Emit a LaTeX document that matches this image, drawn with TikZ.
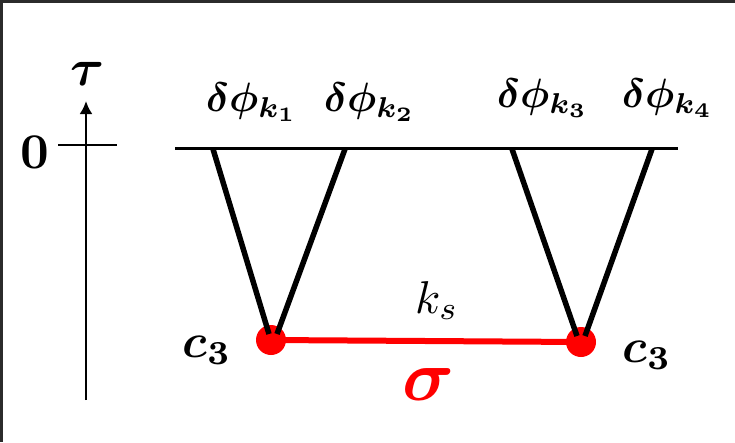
\documentclass[tikz,border=0pt]{standalone}
\usepackage{graphicx}
\usepackage{amsmath}
\usepackage{bm}
\usetikzlibrary{arrows.meta,calc}
\definecolor{frame}{HTML}{2B2B2B}
\definecolor{dotred}{HTML}{FF0000}
\newcommand{\bigtxt}[2]{\scalebox{#1}{#2}}
\begin{document}
\begin{tikzpicture}[x=1pt,y=-1pt,
  leg/.style={line width=5.5pt},
  lab/.style={inner sep=0pt,anchor=base},
  dotnode/.style={circle,fill=dotred,minimum size=30pt,inner sep=0pt}]
\useasboundingbox (0,0) rectangle (735,442);
\fill[white] (0,0) rectangle (735,442);
\fill[frame] (0,0) rectangle (735,3);
\fill[frame] (0,0) rectangle (3,442);
% time axis
\coordinate (ax0) at (86,400);
\coordinate (ax1) at (86,101);
\draw[line width=2.5pt,-{Latex[length=13pt,width=13pt]}] (ax0) -- (ax1);
\coordinate (t0) at (58,145);
\coordinate (t1) at (117,145);
\draw[line width=2.5pt] (t0) -- (t1);
\node[lab] (tau) at (88,85) {\bigtxt{5.2}{$\bm{\tau}$}};
\node[lab] (zero) at (35,168) {\bigtxt{5.0}{$\mathbf{0}$}};
% top line
\coordinate (h0) at (175,148);
\coordinate (h1) at (678,148);
\draw[line width=3pt] (h0) -- (h1);
% dots
\node[dotnode] (d1) at (271,340) {};
\node[dotnode] (d2) at (581,342) {};
\draw[dotred,line width=6pt] (d1.center) -- (d2.center);
% legs
\coordinate (a1) at (213,149);
\coordinate (a2) at (345,149);
\coordinate (a3) at (512,149);
\coordinate (a4) at (652,149);
\draw[leg] (a1) -- ($(d1.center)+(-2,-6)$);
\draw[leg] (a2) -- ($(d1.center)+(6,-6)$);
\draw[leg] (a3) -- ($(d2.center)+(-4,-6)$);
\draw[leg] (a4) -- ($(d2.center)+(4,-6)$);
% labels
\node[lab] (l1) at (252,111) {\bigtxt{4.1}{$\bm{\delta\phi_{k_1}}$}};
\node[lab] (l2) at (370,111) {\bigtxt{4.1}{$\bm{\delta\phi_{k_2}}$}};
\node[lab] (l3) at (543,107) {\bigtxt{4.1}{$\bm{\delta\phi_{k_3}}$}};
\node[lab] (l4) at (668,107) {\bigtxt{4.1}{$\bm{\delta\phi_{k_4}}$}};
\node[lab] (c1) at (207,357) {\bigtxt{4.8}{$\bm{c_3}$}};
\node[lab] (c2) at (647,362) {\bigtxt{4.8}{$\bm{c_3}$}};
\node[lab] (ks) at (437,313) {\bigtxt{4.6}{$k_s$}};
\node[lab,text=dotred] (sig) at (429,400) {\bigtxt{7.2}{$\bm{\sigma}$}};
\end{tikzpicture}
\end{document}
